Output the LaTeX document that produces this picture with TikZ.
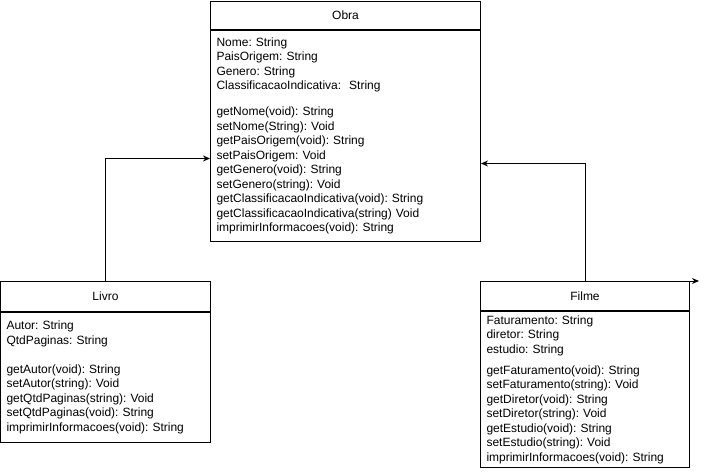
\documentclass[tikz,border=0pt]{standalone}
\usepackage{fontspec}
\setmainfont{Liberation Sans}
\usetikzlibrary{arrows.meta,positioning}
\tikzset{
titulo/.style={draw,inner sep=0pt},
corpo/.style={draw,align=left,inner xsep=6pt,inner ysep=0pt},
heranca/.style={-{Stealth[length=7pt,width=6pt]}}
}

\begin{document}
\frenchspacing
\begin{tikzpicture}[x=1pt,y=-1pt,line width=1pt,every node/.append style={font=\fontsize{12}{14.5}\selectfont}]
\useasboundingbox (0,0) rectangle (709,471);
%%% classe mae
\node[titulo,anchor=north west,minimum width=270pt,minimum height=28pt] (obra) at (210,1) {Obra};
\node[corpo,below=0pt of obra,text width=258pt,minimum height=211pt] (obraCorpo) {%
Nome: String\\
PaisOrigem: String\\
Genero: String\\
ClassificacaoIndicativa:\ \ String\\[11.5pt]
getNome(void): String\\
setNome(String): Void\\
getPaisOrigem(void): String\\
setPaisOrigem: Void\\
getGenero(void): String\\
setGenero(string): Void\\
getClassificacaoIndicativa(void): String\\
getClassificacaoIndicativa(string) Void\\
imprimirInformacoes(void): String};
%%% livro
\node[titulo,anchor=north west,minimum width=210pt,minimum height=30pt] (livro) at (0,281) {Livro};
\node[corpo,below=0pt of livro,text width=198pt,minimum height=130pt] (livroCorpo) {%
Autor: String\\
QtdPaginas: String\\[14.5pt]
getAutor(void): String\\
setAutor(string): Void\\
getQtdPaginas(string): Void\\
setQtdPaginas(void): String\\
imprimirInformacoes(void): String};
%%% filme
\node[titulo,anchor=north west,minimum width=209pt,minimum height=29pt] (filme) at (480,281) {Filme};
\node[corpo,below=0pt of filme,text width=197pt,minimum height=156pt] (filmeCorpo) {%
Faturamento: String\\
diretor: String\\
estudio: String\\[6.5pt]
getFaturamento(void): String\\
setFaturamento(string): Void\\
getDiretor(void): String\\
setDiretor(string): Void\\
getEstudio(void): String\\
setEstudio(string): Void\\
imprimirInformacoes(void): String};
%%% heranca
\draw[heranca] (livro.north) |- ([yshift=-22.5pt]obraCorpo.west);
\draw[heranca] (filme.north) |- ([yshift=-27.5pt]obraCorpo.east);
\coordinate (solta) at ([xshift=9pt]filme.north east);
\draw[heranca] (filme.north east) -- (solta);
\end{tikzpicture}
\end{document}
